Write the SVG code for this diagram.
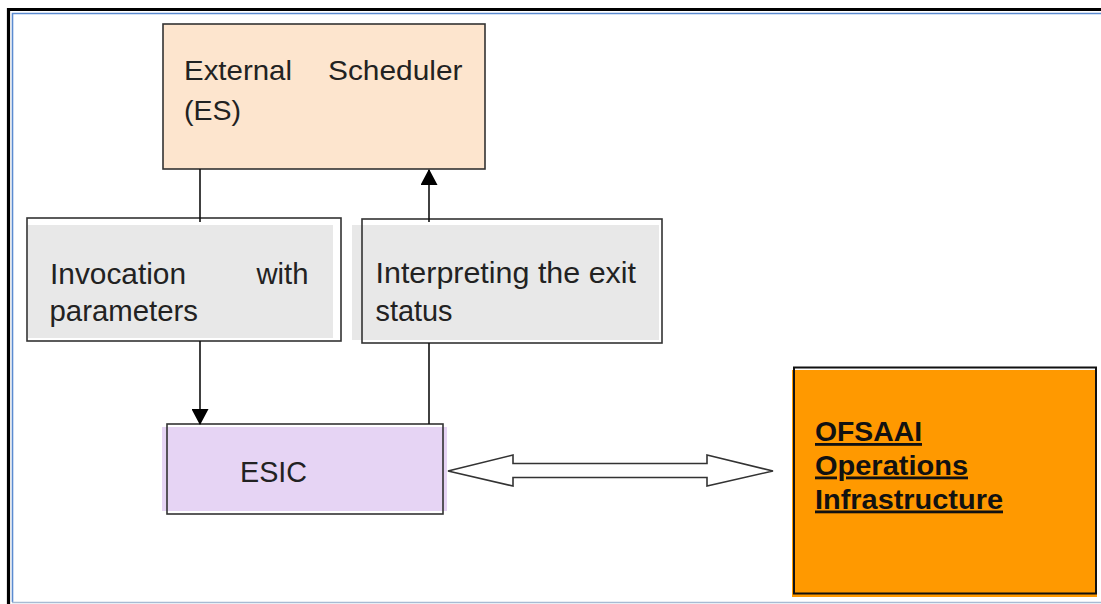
<svg xmlns="http://www.w3.org/2000/svg" width="1101" height="604" viewBox="0 0 1101 604">
<defs>
<style>
.t{font-family:"Liberation Sans",Arial,sans-serif;fill:#222;}
.b{font-family:"Liberation Sans",Arial,sans-serif;font-weight:bold;fill:#111;text-decoration:underline;}
.box{stroke:#333;stroke-width:1.6;fill:none;}
.conn{stroke:#111;stroke-width:1.6;fill:none;}
</style>
<marker id="ah" markerWidth="16" markerHeight="17" refX="15" refY="8.5" orient="auto" markerUnits="userSpaceOnUse" viewBox="0 0 16 17">
<path d="M0,0 L16,8.5 L0,17 z" fill="#000"/>
</marker>
</defs>
<rect width="1101" height="604" fill="#fff"/>
<!-- frame -->
<path d="M8.5,604 V9.5 H1101" stroke="#000" stroke-width="3.2" fill="none"/>
<path d="M12.5,602 V13.5 H1101" stroke="#5B8BD0" stroke-width="1.6" fill="none"/>
<line x1="12" y1="602.5" x2="1101" y2="602.5" stroke="#A7BBD3" stroke-width="1.4"/>

<g id="es">
<rect x="163" y="24" width="322" height="145" fill="#FDE5CE"/>
<rect class="box" x="163" y="24" width="322" height="145"/>
<text class="t" font-size="27.5" x="184" y="79.5" textLength="108" lengthAdjust="spacingAndGlyphs">External</text>
<text class="t" font-size="27.5" x="328" y="79.5" textLength="134.5" lengthAdjust="spacingAndGlyphs">Scheduler</text>
<text class="t" font-size="27.5" x="184" y="120" textLength="57" lengthAdjust="spacingAndGlyphs">(ES)</text>
</g>

<g id="invocation">
<rect x="28" y="225" width="305" height="113" fill="#E8E8E8"/>
<rect class="box" x="27" y="218" width="314" height="123"/>
<text class="t" font-size="29.5" x="50" y="283.5" textLength="136" lengthAdjust="spacingAndGlyphs">Invocation</text>
<text class="t" font-size="29.5" x="256.5" y="283.5" textLength="52" lengthAdjust="spacingAndGlyphs">with</text>
<text class="t" font-size="29.5" x="49.5" y="321" textLength="148.5" lengthAdjust="spacingAndGlyphs">parameters</text>
</g>

<g id="interpreting">
<rect x="352" y="225" width="307" height="115" fill="#E8E8E8"/>
<rect class="box" x="362" y="219" width="300" height="124"/>
<text class="t" font-size="29.5" x="375.5" y="283" textLength="260.5" lengthAdjust="spacingAndGlyphs">Interpreting the exit</text>
<text class="t" font-size="29.5" x="375.5" y="321" textLength="77" lengthAdjust="spacingAndGlyphs">status</text>
</g>

<g id="esic">
<rect x="162" y="427" width="285" height="84" fill="#E6D4F4"/>
<rect class="box" x="167" y="424" width="276" height="90"/>
<text class="t" font-size="30" x="240" y="482" textLength="67" lengthAdjust="spacingAndGlyphs">ESIC</text>
</g>

<g id="ofsaai">
<rect x="792" y="370" width="305" height="227" fill="#FF9900"/>
<rect x="794" y="367.5" width="302" height="226" fill="none" stroke="#111" stroke-width="2"/>
<text class="b" font-size="28" x="815" y="441" textLength="107" lengthAdjust="spacingAndGlyphs">OFSAAI</text>
<text class="b" font-size="28" x="815" y="474.5" textLength="153" lengthAdjust="spacingAndGlyphs">Operations</text>
<text class="b" font-size="28" x="815" y="508.5" textLength="188" lengthAdjust="spacingAndGlyphs">Infrastructure</text>
</g>

<g id="connectors">
<line class="conn" x1="200" y1="169" x2="200" y2="222"/>
<line class="conn" x1="200" y1="341" x2="200" y2="424" marker-end="url(#ah)"/>
<line class="conn" x1="429" y1="424" x2="429" y2="343"/>
<line class="conn" x1="429" y1="222" x2="429" y2="170" marker-end="url(#ah)"/>
<polygon points="448,471 513,455 513,463.5 707,463.5 707,455 773,471 707,486 707,477.5 513,477.5 513,486" fill="#fff" stroke="#333" stroke-width="1.6" stroke-linejoin="miter"/>
</g>
</svg>
